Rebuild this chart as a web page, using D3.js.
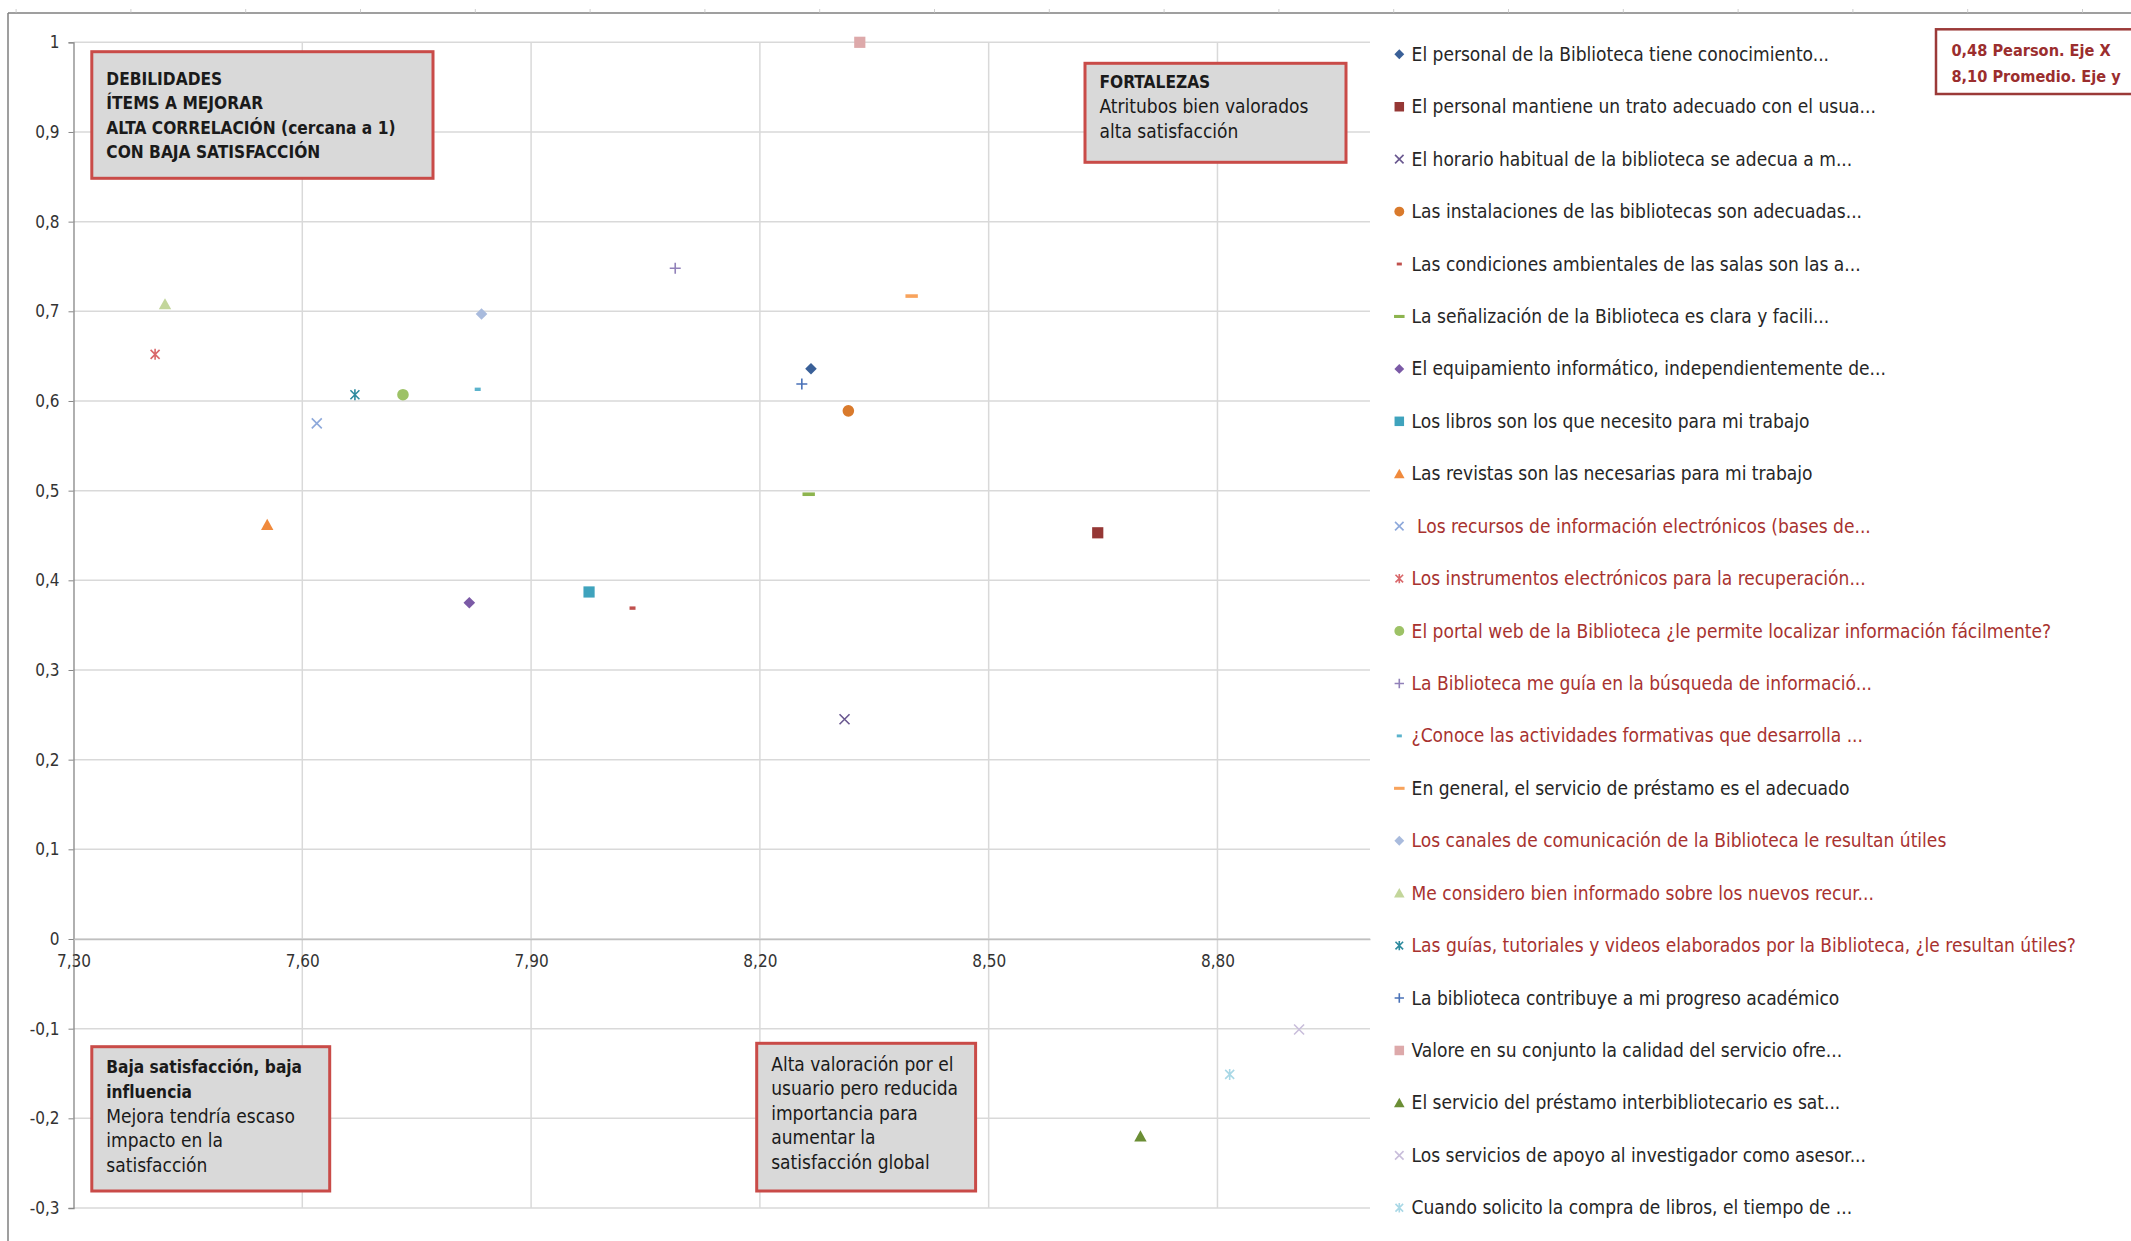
<!DOCTYPE html>
<html lang="es">
<head>
<meta charset="utf-8">
<title>Satisfacción y correlación – ítems de la Biblioteca</title>
<script src="https://cdn.jsdelivr.net/npm/d3@7/dist/d3.min.js"></script>
<style>
  html, body { margin: 0; padding: 0; background: #fff; }
  svg { display: block; }
  text { font-family: "Liberation Sans Narrow", "Arial Narrow", "DejaVu Sans Condensed", sans-serif; }
</style>
</head>
<body>
<svg id="chart" width="2131" height="1241"></svg>
<script>
// ---- Data -------------------------------------------------------------
const categories = [
  "El personal de la Biblioteca tiene conocimiento...",
  "El personal mantiene un trato adecuado con el usua...",
  "El horario habitual de la biblioteca se adecua a m...",
  "Las instalaciones de las bibliotecas son adecuadas...",
  "Las condiciones ambientales de las salas son las a...",
  "La señalización de la Biblioteca es clara y facili...",
  "El equipamiento informático, independientemente de...",
  "Los libros son los que necesito para mi trabajo",
  "Las revistas son las necesarias para mi trabajo",
  " Los recursos de información electrónicos (bases de...",
  "Los instrumentos electrónicos para la recuperación...",
  "El portal web de la Biblioteca ¿le permite localizar información fácilmente?",
  "La Biblioteca me guía en la búsqueda de informació...",
  "¿Conoce las actividades formativas que desarrolla ...",
  "En general, el servicio de préstamo es el adecuado",
  "Los canales de comunicación de la Biblioteca le resultan útiles",
  "Me considero bien informado sobre los nuevos recur...",
  "Las guías, tutoriales y videos elaborados por la Biblioteca, ¿le resultan útiles?",
  "La biblioteca contribuye a mi progreso académico",
  "Valore en su conjunto la calidad del servicio ofre...",
  "El servicio del préstamo interbibliotecario es sat...",
  "Los servicios de apoyo al investigador como asesor...",
  "Cuando solicito la compra de libros, el tiempo de ..."
];

// Satisfaction (mean score, horizontal axis)
const satisfaction = [
  8.267, 8.643, 8.311, 8.316, 8.033, 8.264, 7.819, 7.976, 7.554, 7.619,
  7.407, 7.732, 8.089, 7.830, 8.399, 7.835, 7.420, 7.669, 8.255, 8.331,
  8.699, 8.907, 8.816
];

// Pearson correlation with overall satisfaction (vertical axis)
const correlation = [
  0.636, 0.453, 0.245, 0.589, 0.369, 0.496, 0.375, 0.387, 0.462, 0.575,
  0.652, 0.607, 0.748, 0.613, 0.717, 0.697, 0.708, 0.607, 0.619, 1.000,
  -0.220, -0.101, -0.151
];

// Items whose legend label is highlighted
const highlighted = [
  false, false, false, false, false, false, false, false, false, true,
  true, true, true, true, false, true, true, true, false, false,
  false, false, false
];

const pearsonThreshold = 0.48;
const meanSatisfaction = 8.10;

const xTicks = [7.30, 7.60, 7.90, 8.20, 8.50, 8.80];
const yTicks = [-0.3, -0.2, -0.1, 0, 0.1, 0.2, 0.3, 0.4, 0.5, 0.6, 0.7, 0.8, 0.9, 1];

// ---- Series styling ---------------------------------------------------
const markerShapes = [
  "diamond", "square", "x", "circle", "shortdash", "dash", "diamond", "square",
  "triangle", "x", "asterisk", "circle", "plus", "shortdash", "dash", "diamond",
  "triangle", "asterisk", "plus", "square", "triangle", "x", "asterisk"
];
const markerColors = [
  "#3A6098", "#953735", "#6A5890", "#D97A2C", "#C0504D", "#8DB44E", "#7B5AA6", "#3FA3BD",
  "#F08A3C", "#8EA9DB", "#D9676A", "#9DC266", "#9181B9", "#5BB3CC", "#F8A35C", "#A9BBDD",
  "#C3D69B", "#2D8A9E", "#4A72B8", "#DDA9AA", "#6B8E35", "#C9BEDB", "#A9D8E6"
];

// ---- Layout -----------------------------------------------------------
const W = 2131, H = 1241;
const plot = { left: 73.5, right: 1370, top: 42.3, bottom: 1208 };
const fontSize = 19;
const boldSize = 17.2;

const svg = d3.select("#chart");

const defs = svg.append("defs");
const shadow = defs.append("filter").attr("id", "shadow")
  .attr("x", "-20%").attr("y", "-20%").attr("width", "140%").attr("height", "140%");
shadow.append("feDropShadow").attr("dx", 1).attr("dy", 2)
  .attr("stdDeviation", 1.2).attr("flood-color", "#000").attr("flood-opacity", 0.35);

const locale = d3.formatLocale({ decimal: ",", thousands: ".", grouping: [3], currency: ["", "€"], minus: "-" });
const fmtX = locale.format(".2f");
const fmtY = locale.format(".1~f");

const x = d3.scaleLinear().domain([7.3, 9.0]).range([plot.left, plot.right]);
const y = d3.scaleLinear().domain([-0.3, 1]).range([plot.bottom, plot.top]);

// Outer frame of the chart object
svg.append("line").attr("x1", 8).attr("x2", W).attr("y1", 13).attr("y2", 13)
  .attr("stroke", "#7f7f7f").attr("stroke-width", 1.5);
svg.append("line").attr("x1", 8).attr("x2", 8).attr("y1", 13).attr("y2", H)
  .attr("stroke", "#7f7f7f").attr("stroke-width", 1.5);
svg.append("g").selectAll("line").data(d3.range(16.1, W, 114.8)).join("line")
  .attr("x1", d => d).attr("x2", d => d).attr("y1", 9).attr("y2", 12.5)
  .attr("stroke", "#cfcfcf").attr("stroke-width", 1);

// Gridlines
const grid = svg.append("g").attr("stroke", "#D9D9D9").attr("stroke-width", 1.5);
grid.selectAll(".h").data(yTicks).join("line").attr("class", "h")
  .attr("x1", plot.left).attr("x2", plot.right)
  .attr("y1", d => y(d)).attr("y2", d => y(d));
grid.selectAll(".v").data(xTicks.slice(1)).join("line").attr("class", "v")
  .attr("x1", d => x(d)).attr("x2", d => x(d))
  .attr("y1", plot.top).attr("y2", plot.bottom);

// Y axis
const yAxis = svg.append("g").attr("transform", `translate(${plot.left},0)`)
  .call(d3.axisLeft(y).tickValues(yTicks).tickFormat(fmtY).tickSize(5).tickPadding(9));
yAxis.select(".domain").attr("stroke", "#868686").attr("stroke-width", 1.3);
yAxis.selectAll(".tick line").attr("stroke", "#868686");
yAxis.selectAll("text").attr("font-size", 17).attr("fill", "#333");

// X axis crossing at zero
const xAxis = svg.append("g").attr("transform", `translate(0,${y(0)})`)
  .call(d3.axisBottom(x).tickValues(xTicks).tickFormat(fmtX).tickSize(0).tickPadding(16));
xAxis.select(".domain").attr("stroke", "#BFBFBF").attr("stroke-width", 1.3);
xAxis.selectAll("text").attr("font-size", 17).attr("fill", "#333");

// Reference lines: mean satisfaction and Pearson threshold
svg.append("line")
  .attr("x1", x(meanSatisfaction)).attr("x2", x(meanSatisfaction))
  .attr("y1", y(1)).attr("y2", y(-0.3))
  .attr("stroke", "#C0504D").attr("stroke-width", 3).attr("filter", "url(#shadow)");
svg.append("line")
  .attr("x1", x(7.3)).attr("x2", x(9.0))
  .attr("y1", y(pearsonThreshold)).attr("y2", y(pearsonThreshold))
  .attr("stroke", "#9B3A38").attr("stroke-width", 3.5).attr("filter", "url(#shadow)");

// Marker shapes
function markerPath(shape, k) {
  const p = d3.path();
  const s = k;
  switch (shape) {
    case "diamond": p.moveTo(0, -5.8 * s); p.lineTo(5.8 * s, 0); p.lineTo(0, 5.8 * s); p.lineTo(-5.8 * s, 0); p.closePath(); break;
    case "square": p.rect(-5.6 * s, -5.6 * s, 11.2 * s, 11.2 * s); break;
    case "circle": p.arc(0, 0, 5.8 * s, 0, 2 * Math.PI); break;
    case "triangle": p.moveTo(0, -6 * s); p.lineTo(6.2 * s, 5.2 * s); p.lineTo(-6.2 * s, 5.2 * s); p.closePath(); break;
    case "dash": p.rect(-6.2 * s, -1.8 * s, 12.4 * s, 3.6 * s); break;
    case "shortdash": p.rect(-3 * s, -1.7 * s, 6 * s, 3.4 * s); break;
    case "x": p.moveTo(-5 * s, -5 * s); p.lineTo(5 * s, 5 * s); p.moveTo(5 * s, -5 * s); p.lineTo(-5 * s, 5 * s); break;
    case "asterisk": p.moveTo(-4.5 * s, -4.5 * s); p.lineTo(4.5 * s, 4.5 * s); p.moveTo(4.5 * s, -4.5 * s); p.lineTo(-4.5 * s, 4.5 * s);
      p.moveTo(0, -5.5 * s); p.lineTo(0, 5.5 * s); break;
    case "plus": p.moveTo(-5.5 * s, 0); p.lineTo(5.5 * s, 0); p.moveTo(0, -5.5 * s); p.lineTo(0, 5.5 * s); break;
  }
  return p.toString();
}
const isStroke = s => s === "x" || s === "asterisk" || s === "plus";

function drawMarker(sel, i, k) {
  const shape = markerShapes[i], col = markerColors[i];
  sel.append("path").attr("d", markerPath(shape, k))
    .attr("fill", isStroke(shape) ? "none" : col)
    .attr("stroke", isStroke(shape) ? col : "none")
    .attr("stroke-width", 1.6);
}

// Data points
const points = categories.map((c, i) => ({ i, sx: satisfaction[i], cy: correlation[i] }));
svg.append("g").selectAll("g").data(points).join("g")
  .attr("transform", d => `translate(${x(d.sx)},${y(d.cy)})`)
  .each(function (d) { drawMarker(d3.select(this), d.i, 1); });

// Quadrant annotation boxes
function noteBox(left, top, width, height, lines, opts = {}) {
  const g = svg.append("g");
  g.append("rect").attr("x", left).attr("y", top).attr("width", width).attr("height", height)
    .attr("fill", opts.fill || "#D9D9D9")
    .attr("stroke", opts.stroke || "#C94B48").attr("stroke-width", opts.strokeWidth || 3);
  lines.forEach((ln, j) => {
    g.append("text").attr("x", left + (opts.pad || 14.5)).attr("y", opts.first + j * opts.step)
      .attr("font-size", ln.bold ? (opts.boldSize || boldSize) : fontSize)
      .attr("font-weight", ln.bold ? "bold" : "normal")
      .attr("fill", opts.color || "#1a1a1a")
      .text(ln.t);
  });
}

noteBox(91.8, 51.7, 341.2, 126.6, [
  { t: "DEBILIDADES", bold: true },
  { t: "ÍTEMS A MEJORAR", bold: true },
  { t: "ALTA CORRELACIÓN (cercana a 1)", bold: true },
  { t: "CON BAJA SATISFACCIÓN", bold: true }
], { first: 84.5, step: 24.5 });

noteBox(1085, 63.3, 261, 99, [
  { t: "FORTALEZAS", bold: true },
  { t: "Atritubos bien valorados", bold: false },
  { t: "alta satisfacción", bold: false }
], { first: 87.5, step: 25 });

noteBox(91.8, 1046.7, 237.9, 144.3, [
  { t: "Baja satisfacción, baja", bold: true },
  { t: "influencia", bold: true },
  { t: "Mejora tendría escaso", bold: false },
  { t: "impacto en la", bold: false },
  { t: "satisfacción", bold: false }
], { first: 1073, step: 24.8 });

noteBox(756.7, 1043.3, 218.9, 147.7, [
  { t: "Alta valoración por el", bold: false },
  { t: "usuario pero reducida", bold: false },
  { t: "importancia para", bold: false },
  { t: "aumentar la", bold: false },
  { t: "satisfacción global", bold: false }
], { first: 1070.5, step: 24.6 });

noteBox(1936, 29.3, 220, 64.7, [
  { t: `${locale.format(".2f")(pearsonThreshold)} Pearson. Eje X`, bold: true },
  { t: `${locale.format(".2f")(meanSatisfaction)} Promedio. Eje y`, bold: true }
], { first: 55.5, step: 26, fill: "#fff", stroke: "#9B3A38", strokeWidth: 2.5, color: "#9B2E2E", pad: 15.4, boldSize: 16.2 });

// Legend
const legend = svg.append("g");
const rowY = i => 54.3 + i * 52.43;
const items = legend.selectAll("g").data(categories).join("g")
  .attr("transform", (d, i) => `translate(0,${rowY(i)})`);
items.append("g").attr("transform", "translate(1399.3,0)")
  .each(function (d, i) { drawMarker(d3.select(this), i, 0.85); });
items.append("text")
  .attr("x", 1411.6).attr("y", 6.5)
  .attr("font-size", fontSize)
  .attr("fill", (d, i) => highlighted[i] ? "#A8322F" : "#262626")
  .style("white-space", "pre")
  .text(d => d);
</script>
</body>
</html>
